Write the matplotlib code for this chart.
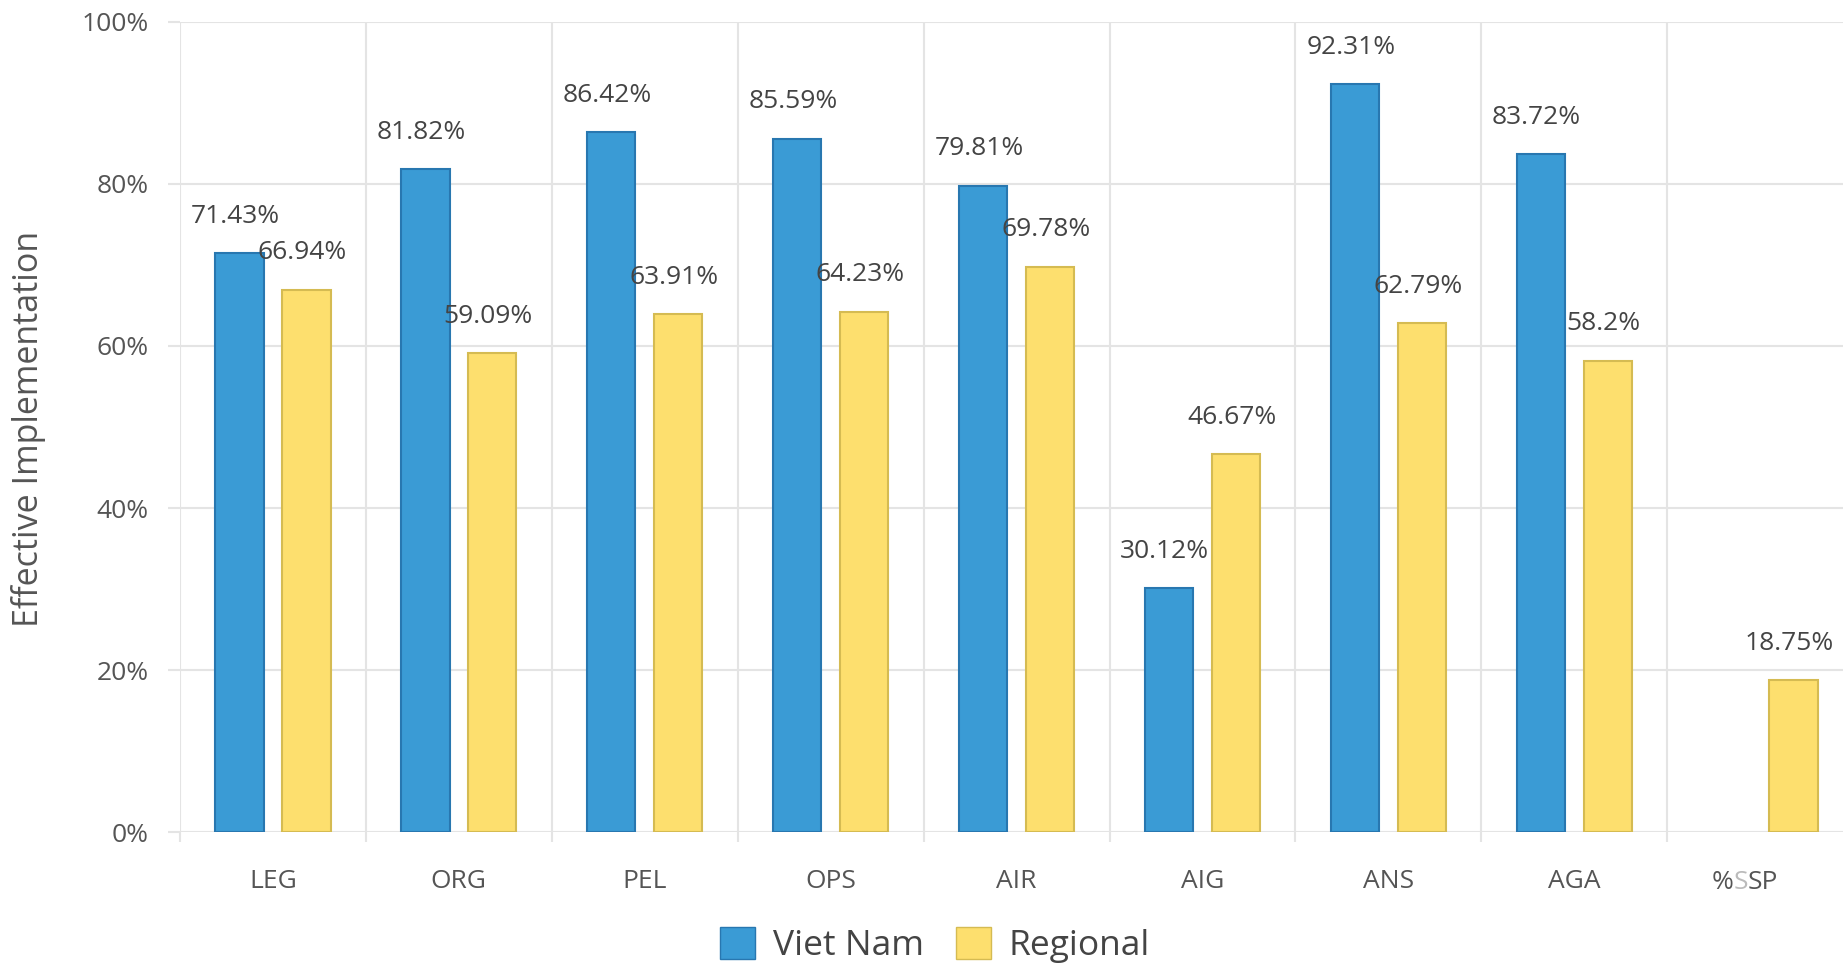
import numpy as np
import matplotlib
matplotlib.use("Agg")
from matplotlib import pyplot as plt
from matplotlib.patches import Patch
from matplotlib.offsetbox import TextArea, HPacker, AnnotationBbox

plt.rcParams['font.family'] = ['Open Sans', 'DejaVu Sans']

categories = ["LEG", "ORG", "PEL", "OPS", "AIR", "AIG", "ANS", "AGA", "%SSP"]
viet_nam = [71.43, 81.82, 86.42, 85.59, 79.81, 30.12, 92.31, 83.72, np.nan]
regional = [66.94, 59.09, 63.91, 64.23, 69.78, 46.67, 62.79, 58.2, 18.75]
y_ticks = [0, 20, 40, 60, 80, 100]

BLUE, BLUE_EDGE = '#3a9bd5', '#2877b0'
YELLOW, YELLOW_EDGE = '#fddf6e', '#d5bb52'
GRID = '#e4e4e4'
TEXT = '#444444'

W, H = 1843, 964
fig = plt.figure(figsize=(W / 100, H / 100), dpi=100)
# axes: left edge at 180px, 0% at 832px, 100% at 22px, 9 slots of ~186px
ax = fig.add_axes([180 / W, (H - 832) / H, 9 * 185.9 / W, 810 / H])

x = np.arange(len(categories))
off, bw = 0.18, 0.26
ax.bar(x - off, viet_nam, bw, color=BLUE, edgecolor=BLUE_EDGE, linewidth=1.5, zorder=3)
ax.bar(x + off, regional, bw, color=YELLOW, edgecolor=YELLOW_EDGE, linewidth=1.5, zorder=3)

for xs, vals in ((x - off, viet_nam), (x + off, regional)):
    for xi, v in zip(xs, vals):
        if np.isnan(v):
            continue
        ax.annotate(f"{v:g}%", (xi, v), xytext=(-3, 26.5), textcoords='offset points',
                    ha='center', va='center', fontsize=19, color=TEXT, zorder=4)

ax.set_xlim(-0.5, len(categories) - 0.5)
ax.set_ylim(0, 100)
ax.set_yticks(y_ticks)
ax.set_yticklabels([f"{t}%" for t in y_ticks])
ax.set_xticks(x)
ax.set_xticklabels(categories[:-1] + [""])
ax.set_xticks(np.arange(len(categories) + 1) - 0.5, minor=True)

for s in ax.spines.values():
    s.set_visible(False)
ax.grid(axis='y', color=GRID, linewidth=1.5, zorder=0)
ax.grid(axis='x', which='minor', color=GRID, linewidth=1.5, zorder=0)
ax.tick_params(axis='y', length=8.6, width=1.5, color=GRID, pad=14,
               labelsize=19, labelcolor='#555555')
ax.tick_params(axis='x', which='major', length=0, pad=26.5,
               labelsize=19, labelcolor='#555555')
ax.tick_params(axis='x', which='minor', length=7, width=1.5, color=GRID)

# last category label has a lighter middle "S" in the original
parts = [TextArea(t, textprops=dict(fontsize=19, color=c))
         for t, c in (("%", '#555555'), ("S", '#bbbbbb'), ("SP", '#555555'))]
box = HPacker(children=parts, pad=0, sep=0, align='baseline')
ab = AnnotationBbox(box, (len(categories) - 1, 0), xycoords=('data', 'axes fraction'),
                    xybox=(-11, -36.5), boxcoords='offset points', frameon=False,
                    pad=0, box_alignment=(0.5, 0.5), annotation_clip=False)
ax.add_artist(ab)

fig.text(29 / W, 1 - 429 / H, "Effective Implementation", rotation=90,
         ha='center', va='center', fontsize=24.5, color='#555555')

handles = [Patch(facecolor=BLUE, edgecolor=BLUE_EDGE, label="Viet Nam"),
           Patch(facecolor=YELLOW, edgecolor=YELLOW_EDGE, label="Regional")]
leg = fig.legend(handles=handles, loc='center', bbox_to_anchor=(935 / W, 1 - 945 / H),
                 ncol=2, frameon=False, fontsize=25.5, handlelength=1.0, handleheight=1.0,
                 handletextpad=0.5, columnspacing=0.9)
for t in leg.get_texts():
    t.set_color(TEXT)

fig.savefig("out.png", dpi=100)
